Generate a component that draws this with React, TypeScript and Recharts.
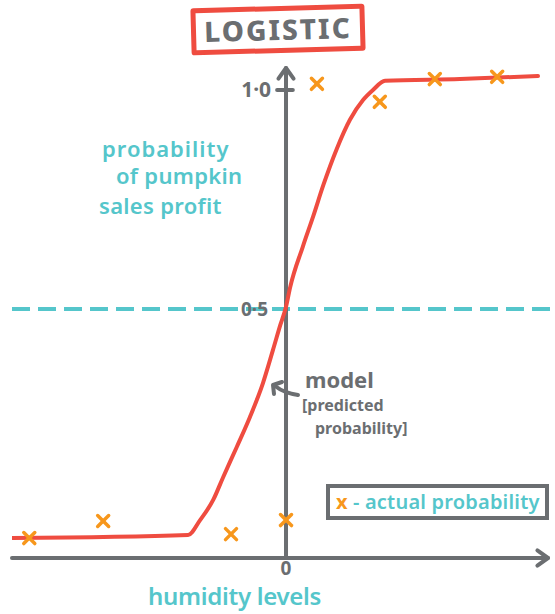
import React from 'react';
import { ComposedChart, Line, Scatter, XAxis, YAxis, ReferenceLine, ReferenceDot } from 'recharts';

// model curve (predicted probability)
const curveX = [-5.23, -1.87, -1.64, -1.39, -1.2, -0.94, -0.69, -0.44, -0.25, -0.11, 0, 0.08, 0.32, 0.52, 0.71, 0.97, 1.22, 1.47, 1.66, 1.89, 3.32, 4.81];
const curveY = [-0.023, -0.016, 0.018, 0.064, 0.116, 0.185, 0.253, 0.331, 0.406, 0.463, 0.505, 0.55, 0.642, 0.712, 0.782, 0.866, 0.932, 0.977, 1.0, 1.021, 1.025, 1.032];
// actual probability
const actualX = [-4.9, -3.49, -1.05, 0, 0.59, 1.79, 2.84, 4.03];
const actualY = [-0.023, 0.016, -0.014, 0.018, 1.014, 0.973, 1.025, 1.03];

const xTicks = [0];
const xTickLabels = ['0'];
const yTickValues = [1.0, 0.5];
const yTickLabels = ['1·0', '0·5'];
const threshold = 0.5;

const X_DOMAIN: [number, number] = [-5.23, 5.134];
const Y_DOMAIN: [number, number] = [-0.0685, 1.0502];
const X_AXIS_END = 5.0;

const curveData = curveX.map((x, i) => ({ x, y: curveY[i] }));
const actualData = actualX.map((x, i) => ({ x, y: actualY[i] }));

const GRAY = '#6b6e71';
const TEAL = '#55c6cb';
const RED = '#ef4c40';
const ORANGE = '#f7971c';
const FONT = '"Noto Sans", "DejaVu Sans", sans-serif';

const Cross = (props: any) => {
  const cx = props.cx ?? props.x + (props.width || 0) / 2;
  const cy = props.cy ?? props.y + (props.height || 0) / 2;
  const s = 5.5;
  return (
    <g stroke={ORANGE} strokeWidth={3.5} strokeLinecap="round">
      <line x1={cx - s} y1={cy - s} x2={cx + s} y2={cy + s} />
      <line x1={cx - s} y1={cy + s} x2={cx + s} y2={cy - s} />
    </g>
  );
};

const ArrowLine = (props: any) => {
  const { x1, y1, x2, y2 } = props;
  const a = Math.atan2(y2 - y1, x2 - x1);
  const L = 13;
  const sp = 0.62;
  const ax = x2 - L * Math.cos(a - sp);
  const ay = y2 - L * Math.sin(a - sp);
  const bx = x2 - L * Math.cos(a + sp);
  const by = y2 - L * Math.sin(a + sp);
  return (
    <g stroke={GRAY} strokeWidth={4} fill="none" strokeLinecap="round" strokeLinejoin="round">
      <line x1={x1} y1={y1} x2={x2} y2={y2} />
      <path d={`M${ax},${ay} L${x2},${y2} L${bx},${by}`} />
    </g>
  );
};

const abs = (s: React.CSSProperties): React.CSSProperties => ({ position: 'absolute', margin: 0, whiteSpace: 'nowrap', fontFamily: FONT, ...s });

export default function App() {
  return (
    <div style={{ position: 'absolute', left: 0, top: 0, width: 555, height: 614, background: '#fff', overflow: 'hidden' }}>
      <ComposedChart width={555} height={614} margin={{ top: 68, right: 0, bottom: 0, left: 12 }}>
        <XAxis
          type="number"
          dataKey="x"
          domain={X_DOMAIN}
          ticks={xTicks}
          tickFormatter={(v: number) => xTickLabels[xTicks.indexOf(v)] ?? String(v)}
          axisLine={false}
          tickLine={false}
          tick={{ fill: GRAY, fontSize: 19, fontWeight: 700, fontFamily: FONT }}
          tickMargin={-2}
          height={56}
          allowDataOverflow
        />
        <YAxis type="number" dataKey="y" domain={Y_DOMAIN} hide allowDataOverflow />
        <ReferenceLine
          segment={[{ x: X_DOMAIN[0], y: threshold }, { x: X_DOMAIN[1], y: threshold }]}
          stroke={TEAL}
          strokeWidth={4}
          strokeDasharray="18 8"
          ifOverflow="visible"
        />
        <ReferenceLine
          segment={[{ x: X_DOMAIN[0], y: Y_DOMAIN[0] }, { x: X_AXIS_END, y: Y_DOMAIN[0] }]}
          shape={ArrowLine}
          ifOverflow="visible"
        />
        <ReferenceLine
          segment={[{ x: 0, y: Y_DOMAIN[0] }, { x: 0, y: Y_DOMAIN[1] }]}
          shape={ArrowLine}
          ifOverflow="visible"
        />
        <ReferenceLine
          segment={[{ x: -0.17, y: yTickValues[0] }, { x: 0.13, y: yTickValues[0] }]}
          stroke={GRAY}
          strokeWidth={4}
          strokeLinecap="round"
          label={{ value: yTickLabels[0], position: 'left', fill: GRAY, fontSize: 21, fontWeight: 700, fontFamily: FONT, offset: 6 }}
        />
        <ReferenceDot
          x={0}
          y={yTickValues[1]}
          r={0}
          fill="none"
          stroke="none"
          label={{ value: yTickLabels[1], position: 'left', fill: GRAY, fontSize: 19, fontWeight: 700, fontFamily: FONT, offset: 18 }}
        />
        <Line
          data={curveData}
          dataKey="y"
          type="monotone"
          stroke={RED}
          strokeWidth={4}
          dot={false}
          activeDot={false}
          isAnimationActive={false}
          strokeLinecap="round"
        />
        <Scatter data={actualData} dataKey="y" shape={Cross} isAnimationActive={false} />
      </ComposedChart>

      {/* title */}
      <div
        style={abs({
          left: 191,
          top: 6,
          width: 164,
          height: 37,
          border: `5px solid ${RED}`,
          borderRadius: 3,
          transform: 'rotate(-1.6deg)',
          color: GRAY,
          fontSize: 28,
          fontWeight: 800,
          letterSpacing: 2,
          lineHeight: '37px',
          textAlign: 'center',
        })}
      >
        LOGISTIC
      </div>

      {/* y label */}
      <div style={abs({ left: 102, top: 137, color: TEAL, fontSize: 22, lineHeight: '22px', fontWeight: 600, letterSpacing: 1 })}>probability</div>
      <div style={abs({ left: 116, top: 164, color: TEAL, fontSize: 22, lineHeight: '22px', fontWeight: 600, letterSpacing: 0.3 })}>of pumpkin</div>
      <div style={abs({ left: 99, top: 194, color: TEAL, fontSize: 22, lineHeight: '22px', fontWeight: 600, letterSpacing: 0.3 })}>sales profit</div>

      {/* model annotation */}
      <svg style={{ position: 'absolute', left: 0, top: 0 }} width={555} height={614} pointerEvents="none">
        <g stroke={GRAY} strokeWidth={4} fill="none" strokeLinecap="round" strokeLinejoin="round">
          <path d="M298,395 Q284,393 275,386" />
          <path d="M274,394 L273,385 L282,382" />
        </g>
      </svg>
      <div style={abs({ left: 305, top: 364, color: GRAY, fontSize: 22, fontWeight: 700 })}>model</div>
      <div style={abs({ left: 302, top: 394, color: GRAY, fontSize: 16, fontWeight: 700 })}>[predicted</div>
      <div style={abs({ left: 315, top: 417, color: GRAY, fontSize: 16, fontWeight: 700 })}>probability]</div>

      {/* x label */}
      <div style={abs({ left: 148, top: 584, color: TEAL, fontSize: 24, lineHeight: '24px', fontWeight: 600, letterSpacing: -0.3 })}>humidity levels</div>

      {/* legend */}
      <div
        style={abs({
          left: 326,
          top: 484,
          width: 215,
          height: 28,
          border: `4px solid ${GRAY}`,
          fontSize: 20,
          fontWeight: 600,
          lineHeight: '28px',
        })}
      >
        <span style={{ color: ORANGE, marginLeft: 6, fontWeight: 700 }}>x</span>
        <span style={{ color: TEAL, letterSpacing: 0.2 }}> - actual probability</span>
      </div>
    </div>
  );
}
